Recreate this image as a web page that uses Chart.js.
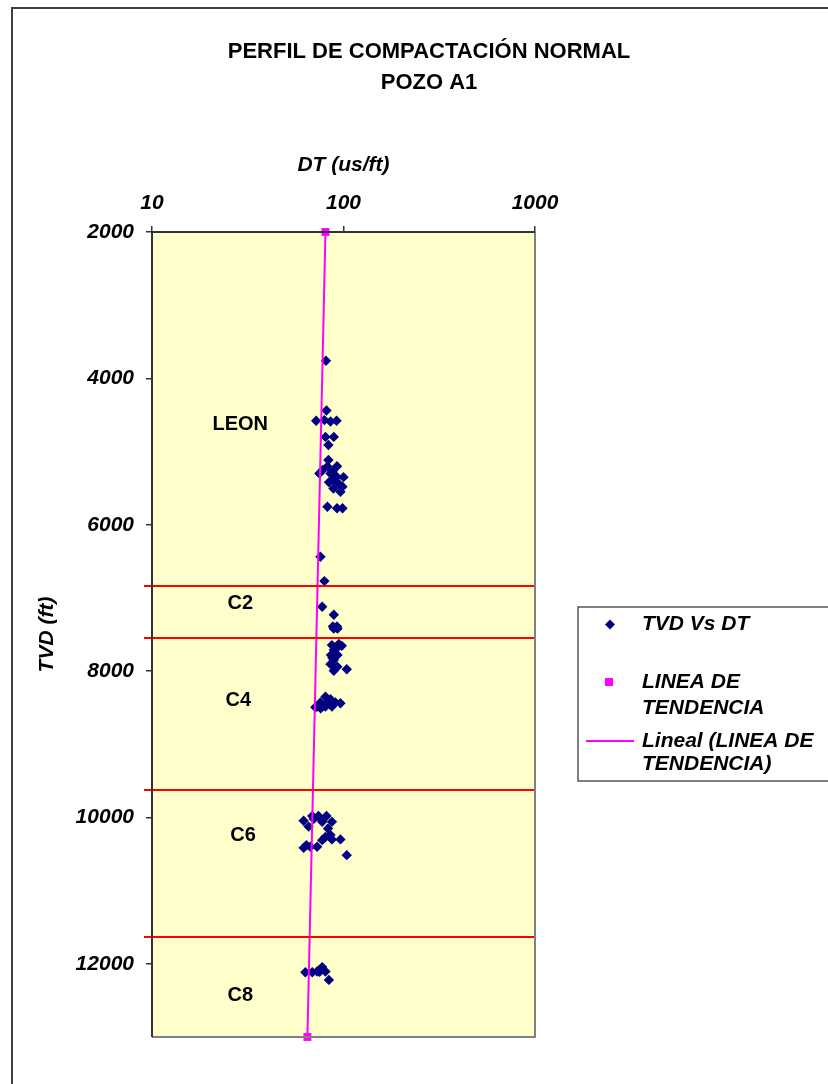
<!DOCTYPE html>
<html>
<head>
<meta charset="utf-8">
<script src="https://cdn.jsdelivr.net/npm/chart.js@4.4.1/dist/chart.umd.min.js"></script>
<style>
  html, body { margin: 0; padding: 0; background: #ffffff; }
  #wrap { width: 828px; height: 1084px; position: relative; }
</style>
</head>
<body>
<div id="wrap"><canvas id="chart" width="828" height="1084"></canvas></div>
<script>
// Chart text
const chartTitle = ['PERFIL DE COMPACTACIÓN NORMAL', 'POZO A1'];
const xAxisTitle = 'DT (us/ft)';
const yAxisTitle = 'TVD (ft)';

// Tick labels
const xTicks = [10, 100, 1000];
const yTicks = [2000, 4000, 6000, 8000, 10000, 12000];

// Sonic transit time (us/ft) against true vertical depth (ft)
const dtValues = [
  81, 81.5, 72, 79.5, 85.5, 92, 80.5, 89, 83.4, 83.4,
  82.4, 92.5, 87.6, 74.8, 85.5, 92, 100, 88.6, 94, 98.8,
  88.6, 96.4, 82.4, 92.5, 98.8, 78, 84, 90,
  75.8, 79.5, 77.4, 89, 88, 92.5, 89, 93,
  87, 94.5, 98, 89, 86, 93, 89, 85.5, 92.8, 89, 104, 91, 87.5,
  80.5, 85.5, 75.8, 90.7, 96.4, 72.8, 80.5, 87, 71.3, 76, 84, 78,
  61.9, 68.7, 74, 81.5, 87, 65.7, 77.4, 80.5, 85.5, 61.9,
  67.1, 72.8, 77.4, 87, 96.4, 104, 70, 83, 64,
  63.2, 68.7, 72.8, 77.4, 80.5, 83.9, 75
];
const tvdValues = [
  3760, 4440, 4580, 4570, 4590, 4580, 4800, 4800, 4910, 5115,
  5205, 5200, 5275, 5300, 5300, 5345, 5350, 5390, 5435, 5480,
  5505, 5550, 5755, 5775, 5775, 5250, 5420, 5330,
  6437, 6770, 7120, 7230, 7390, 7390, 7420, 7420,
  7645, 7630, 7655, 7710, 7780, 7780, 7850, 7905, 7940, 7995, 7975, 7700, 7820,
  8350, 8385, 8430, 8430, 8440, 8485, 8485, 8485, 8495, 8510, 8420, 8470,
  10045, 9980, 9980, 9980, 10060, 10125, 10060, 10265, 10240, 10415,
  10400, 10400, 10310, 10300, 10300, 10515, 10020, 10150, 10380,
  12115, 12115, 12105, 12045, 12105, 12220, 12110
];

// Normal compaction trend end points
const trendDT = [80.5, 64.8];
const trendTVD = [2000, 13000];

// Formation tops (ft) and formation names with their label anchors
const topsTVD = [6840, 7545, 9625, 11635];
const zoneNames = ['LEON', 'C2', 'C4', 'C6', 'C8'];
const zoneDT = [28.9, 28.9, 28.2, 29.9, 28.9];
const zoneTVD = [4624, 7070, 8395, 10240, 12426];

// Legend entries
const legendLabels = [['TVD Vs DT'], ['LINEA DE', 'TENDENCIA'], ['Lineal (LINEA DE', 'TENDENCIA)']];

const FONT = "'Liberation Sans', Arial, sans-serif";
const NAVY = '#000080';
const MAGENTA = '#FF00FF';

const scatterPoints = dtValues.map((v, i) => ({ x: v, y: tvdValues[i] }));
const trendPoints = trendDT.map((v, i) => ({ x: v, y: trendTVD[i] }));

const decorPlugin = {
  id: 'decor',
  beforeDraw(chart) {
    const { ctx, chartArea: a } = chart;
    ctx.save();
    ctx.fillStyle = '#ffffff';
    ctx.fillRect(0, 0, chart.width, chart.height);
    // outer chart frame
    ctx.strokeStyle = '#404040';
    ctx.lineWidth = 2;
    ctx.strokeRect(12, 8, 900, 1200);
    // plot area
    ctx.fillStyle = '#FFFFCC';
    ctx.fillRect(a.left, a.top, a.right - a.left, a.bottom - a.top);
    ctx.restore();
  },
  afterDatasetsDraw(chart) {
    const { ctx, chartArea: a, scales } = chart;
    ctx.save();
    // formation tops
    ctx.strokeStyle = '#FF0000';
    ctx.lineWidth = 2;
    topsTVD.forEach(t => {
      const y = Math.round(scales.y.getPixelForValue(t));
      ctx.beginPath();
      ctx.moveTo(a.left - 8, y);
      ctx.lineTo(a.right, y);
      ctx.stroke();
    });
    // formation names
    ctx.fillStyle = '#000000';
    ctx.font = 'bold 20px ' + FONT;
    ctx.textAlign = 'center';
    ctx.textBaseline = 'middle';
    zoneNames.forEach((n, i) => {
      ctx.fillText(n, scales.x.getPixelForValue(zoneDT[i]), scales.y.getPixelForValue(zoneTVD[i]));
    });
    // plot frame: axis sides dark, opposite sides grey
    ctx.lineWidth = 2;
    ctx.strokeStyle = '#808080';
    ctx.beginPath();
    ctx.moveTo(a.right, a.top);
    ctx.lineTo(a.right, a.bottom);
    ctx.lineTo(a.left, a.bottom);
    ctx.stroke();
    ctx.strokeStyle = '#333333';
    ctx.beginPath();
    ctx.moveTo(a.left, a.bottom);
    ctx.lineTo(a.left, a.top);
    ctx.lineTo(a.right, a.top);
    ctx.stroke();
    ctx.restore();
  },
  afterDraw(chart) {
    const { ctx } = chart;
    ctx.save();
    // title
    ctx.fillStyle = '#000000';
    ctx.font = 'bold 22px ' + FONT;
    ctx.textAlign = 'center';
    ctx.textBaseline = 'middle';
    ctx.fillText(chartTitle[0], 429, 52);
    ctx.fillText(chartTitle[1], 429, 83);

    // legend
    const lx = 578, ly = 607;
    ctx.fillStyle = '#ffffff';
    ctx.fillRect(lx, ly, 300, 174);
    ctx.strokeStyle = '#555555';
    ctx.lineWidth = 1.5;
    ctx.strokeRect(lx, ly, 300, 174);

    // marker samples
    ctx.fillStyle = NAVY;
    ctx.beginPath();
    ctx.moveTo(610, 619.5); ctx.lineTo(615, 624.5); ctx.lineTo(610, 629.5); ctx.lineTo(605, 624.5);
    ctx.closePath(); ctx.fill();
    ctx.fillStyle = MAGENTA;
    ctx.fillRect(605, 678, 8, 8);
    ctx.strokeStyle = MAGENTA;
    ctx.lineWidth = 2;
    ctx.beginPath(); ctx.moveTo(586, 741); ctx.lineTo(634, 741); ctx.stroke();

    ctx.fillStyle = '#000000';
    ctx.font = 'italic bold 21px ' + FONT;
    ctx.textAlign = 'left';
    ctx.textBaseline = 'middle';
    const rows = [[624], [682, 708], [741, 764]];
    legendLabels.forEach((lines, i) => {
      lines.forEach((s, j) => ctx.fillText(s, 642, rows[i][j]));
    });
    ctx.restore();
  }
};

const tickFont = { family: FONT, size: 21, weight: 'bold', style: 'italic' };

new Chart(document.getElementById('chart'), {
  type: 'scatter',
  data: {
    datasets: [
      {
        label: 'Lineal (LINEA DE TENDENCIA)',
        data: trendPoints,
        showLine: true,
        borderColor: MAGENTA,
        borderWidth: 2,
        pointRadius: 0,
        fill: false,
        order: 1
      },
      {
        label: 'LINEA DE TENDENCIA',
        data: trendPoints,
        showLine: false,
        pointStyle: 'rect',
        pointRadius: 5.6,
        backgroundColor: MAGENTA,
        borderColor: MAGENTA,
        borderWidth: 0,
        clip: false,
        order: 0
      },
      {
        label: 'TVD Vs DT',
        data: scatterPoints,
        showLine: false,
        pointStyle: 'rectRot',
        pointRadius: 5.2,
        backgroundColor: NAVY,
        borderColor: NAVY,
        borderWidth: 0,
        order: 2
      }
    ]
  },
  options: {
    responsive: false,
    animation: false,
    devicePixelRatio: 1,
    events: [],
    layout: { padding: { left: 20, top: 145, right: 293, bottom: 47 } },
    plugins: {
      legend: { display: false },
      tooltip: { enabled: false },
      title: { display: false }
    },
    scales: {
      x: {
        type: 'logarithmic',
        position: 'top',
        min: 10,
        max: 1000,
        afterFit(s) { s.height = 87; },
        afterBuildTicks(s) { s.ticks = xTicks.map(v => ({ value: v })); },
        ticks: {
          callback: v => String(v),
          color: '#000000',
          font: tickFont,
          padding: 10,
          maxRotation: 0,
          autoSkip: false
        },
        grid: { drawOnChartArea: false, drawTicks: true, tickLength: 6, color: '#333333', lineWidth: 1.5 },
        border: { display: false },
        title: { display: true, text: xAxisTitle, color: '#000000', font: tickFont, padding: { top: 8, bottom: 0 } }
      },
      y: {
        type: 'linear',
        reverse: true,
        min: 2000,
        max: 13000,
        afterFit(s) { s.width = 132; },
        afterBuildTicks(s) { s.ticks = yTicks.map(v => ({ value: v })); },
        ticks: {
          callback: v => String(v),
          color: '#000000',
          font: tickFont,
          padding: 12,
          autoSkip: false
        },
        grid: { drawOnChartArea: false, drawTicks: true, tickLength: 6, color: '#333333', lineWidth: 1.5 },
        border: { display: false },
        title: { display: true, text: yAxisTitle, color: '#000000', font: tickFont, padding: { top: 15, bottom: 0 } }
      }
    }
  },
  plugins: [decorPlugin]
});
</script>
</body>
</html>
